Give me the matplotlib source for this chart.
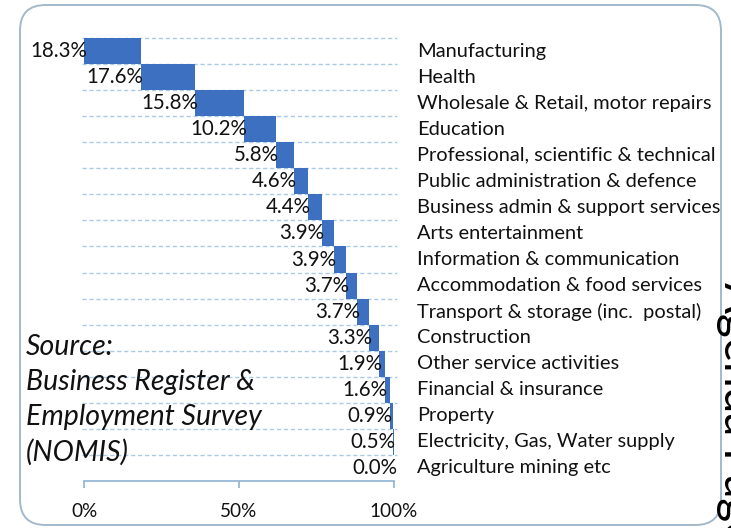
import matplotlib
matplotlib.use("Agg")
import matplotlib.pyplot as plt
from matplotlib.patches import FancyBboxPatch
import numpy as np

# Employment share by industry
industries = [
    "Manufacturing",
    "Health",
    "Wholesale & Retail, motor repairs",
    "Education",
    "Professional, scientific & technical",
    "Public administration & defence",
    "Business admin & support services",
    "Arts entertainment",
    "Information & communication",
    "Accommodation & food services",
    "Transport & storage (inc.  postal)",
    "Construction",
    "Other service activities",
    "Financial & insurance",
    "Property",
    "Electricity, Gas, Water supply",
    "Agriculture mining etc",
]
shares = [18.3, 17.6, 15.8, 10.2, 5.8, 4.6, 4.4, 3.9, 3.9, 3.7, 3.7, 3.3,
          1.9, 1.6, 0.9, 0.5, 0.0]
x_ticks = [0, 50, 100]
x_tick_labels = ["0%", "50%", "100%"]
source_lines = ["Source:", "Business Register &", "Employment Survey", "(NOMIS)"]

W, H = 731, 528
DPI = 100
fig = plt.figure(figsize=(W / DPI, H / DPI), dpi=DPI)
fig.patch.set_facecolor("white")

FONT = "Lato"
BAR = "#3D70C0"
GRID = "#A9CBEA"
AXIS = "#8FB3D3"
INK = "#111111"

def px(x, y):
    """Pixel coordinates (from top-left) to figure fraction."""
    return x / W, 1 - y / H

# Rounded frame around the chart
frame = FancyBboxPatch(px(20, 525), (721 - 20) / W, (525 - 5) / H,
                       boxstyle="round,pad=0,rounding_size=0.035",
                       transform=fig.transFigure, facecolor="none",
                       edgecolor="#A3B9CA", linewidth=1.4,
                       mutation_aspect=W / H)
fig.add_artist(frame)

# Plot area
left, right, top, bottom = 84, 394, 38, 481
ax = fig.add_axes([left / W, 1 - bottom / H, (right - left) / W, (bottom - top) / H])
n = len(shares)
starts = np.concatenate([[0], np.cumsum(shares)[:-1]])
ypos = np.arange(n) + 0.5

ax.set_xlim(0, 100)
ax.set_ylim(n, 0)

# Dashed guide lines at the top of each row
for y in range(n):
    ax.plot([-0.6, 101.0], [y, y], color=GRID, lw=1.0, ls=(0, (3, 2)),
            clip_on=False, zorder=1)

ax.barh(ypos, shares, left=starts, height=1.0, color=BAR, zorder=2)

# Value labels just left of each bar
for y, s, v in zip(ypos, starts, shares):
    ax.annotate(f"{v:.1f}%", (s, y), xytext=(2, 0), textcoords="offset points",
                ha="right", va="center", fontsize=14.8, family=FONT,
                color=INK, zorder=3)

# Industry names to the right of the plot
for y, name in zip(ypos, industries):
    ax.annotate(name, (0, y), xycoords=("figure fraction", "data"),
                xytext=(417 / W * fig.get_figwidth() * 72, 0),
                textcoords="offset points", ha="left", va="center",
                fontsize=14.4, family=FONT, color=INK)

# Axis styling
for side in ["top", "right", "left"]:
    ax.spines[side].set_visible(False)
ax.spines["bottom"].set_color(AXIS)
ax.spines["bottom"].set_linewidth(1.2)
ax.set_yticks([])
ax.set_xticks(x_ticks)
ax.set_xticklabels(x_tick_labels, fontsize=13.6, family=FONT, color=INK)
ax.tick_params(axis="x", colors=AXIS, length=5, width=1.2, pad=11,
               labelcolor=INK)
ax.patch.set_alpha(0)

# Source note
for i, line in enumerate(source_lines):
    fig.text(*px(26, 347 + i * 35.2), line, ha="left", va="center",
             fontsize=20.5, family=FONT, style="italic", color=INK)

# Page marker running down the right edge
fig.text(*px(724, 282), "Agenda Page", rotation=270, rotation_mode="anchor",
         ha="left", va="baseline", fontsize=33, family=FONT, color="black",
         zorder=5)

fig.savefig("out.png", dpi=DPI, facecolor="white")
